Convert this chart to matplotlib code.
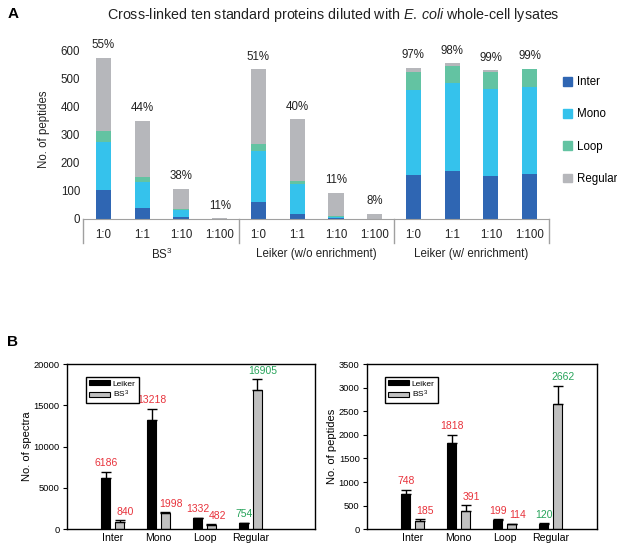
import numpy as np
import matplotlib.pyplot as plt
from matplotlib.patches import Patch
from matplotlib.transforms import blended_transform_factory

plt.rcParams['font.family'] = ['Liberation Sans', 'DejaVu Sans']
plt.rcParams['mathtext.fontset'] = 'custom'
plt.rcParams['mathtext.rm'] = 'Liberation Sans'
plt.rcParams['mathtext.it'] = 'Liberation Sans:italic'

# ---- panel A data (stacked segments, no. of peptides)
ratios = ["1:0", "1:1", "1:10", "1:100"] * 3
groups = ["BS$^3$", "Leiker (w/o enrichment)", "Leiker (w/ enrichment)"]
inter = [103, 40, 8, 0, 59, 18, 2, 0, 157, 171, 154, 161]
mono = [169, 90, 25, 0, 183, 106, 6, 0, 303, 312, 309, 310]
loop = [40, 20, 4, 0, 25, 12, 2, 0, 62, 60, 58, 61]
regular = [262, 200, 71, 3, 265, 218, 83, 18, 16, 11, 7, 3]
pct_labels = ["55%", "44%", "38%", "11%", "51%", "40%", "11%", "8%",
              "97%", "98%", "99%", "99%"]

# ---- panel B data
cats = ["Inter", "Mono", "Loop", "Regular"]
spec_leiker = [6186, 13218, 1332, 754]
spec_leiker_err = [780, 1370, 90, 60]
spec_bs3 = [840, 1998, 482, 16905]
spec_bs3_err = [285, 40, 110, 1250]
pep_leiker = [748, 1818, 199, 120]
pep_leiker_err = [85, 180, 10, 8]
pep_bs3 = [185, 391, 114, 2662]
pep_bs3_err = [27, 117, 8, 375]

c_inter = "#2f66b3"
c_mono = "#35c2ec"
c_loop = "#63c3a2"
c_reg = "#b6b7bb"
red = "#e8333c"
green = "#27a35a"

fig = plt.figure(figsize=(6.17, 5.45), dpi=100)

# ================= panel A
ax = fig.add_axes([0.1345, 0.5982, 0.7553, 0.3303])
x = np.arange(len(ratios))
w = 0.39
b = np.zeros(len(x))
for vals, col in [(inter, c_inter), (mono, c_mono), (loop, c_loop), (regular, c_reg)]:
    ax.bar(x, vals, w, bottom=b, color=col, linewidth=0)
    b = b + np.array(vals)
for xi, tot, lab in zip(x, b, pct_labels):
    ax.annotate(lab, (xi, tot), xytext=(0, 9), textcoords="offset points",
                ha="center", va="center", fontsize=8.3, color="#222222",
                annotation_clip=False)

ax.set_xlim(-0.53, 11.5)
ax.set_ylim(0, 640)
ax.set_yticks(range(0, 700, 100))
ax.set_xticks(x)
ax.set_xticklabels(ratios, fontsize=8.3, color="#222222")
ax.tick_params(axis="x", length=0, pad=7)
ax.tick_params(axis="y", length=0, pad=2, labelsize=8.3, labelcolor="#222222")
for s in ["top", "right", "left"]:
    ax.spines[s].set_visible(False)
ax.spines["bottom"].set_color("#a0a0a0")
ax.set_ylabel("No. of peptides", fontsize=8.3, color="#222222", labelpad=8)

tr = blended_transform_factory(ax.transData, ax.transAxes)
for sep in [-0.53, 3.5, 7.5, 11.5]:
    ax.plot([sep, sep], [0, -0.135], transform=tr, color="#a0a0a0",
            lw=1, clip_on=False)
for gi, g in enumerate(groups):
    ax.text(gi * 4 + 1.5, -0.195, g, transform=tr, ha="center", va="center",
            fontsize=8.3, color="#222222")

handles = [Patch(color=c_inter, label="Inter"), Patch(color=c_mono, label="Mono"),
           Patch(color=c_loop, label="Loop"), Patch(color=c_reg, label="Regular")]
fig.legend(handles=handles, loc="upper left", bbox_to_anchor=(0.913, 0.86),
           frameon=False, fontsize=8.3, handlelength=0.75, handleheight=0.75,
           handletextpad=0.4, labelspacing=1.75, borderaxespad=0, borderpad=0)

fig.text(0.54, 0.973, "Cross-linked ten standard proteins diluted with $\\it{E.\\,coli}$ whole-cell lysates",
         ha="center", va="center", fontsize=10.3, color="#222222")
fig.text(0.012, 0.975, "A", fontsize=11, fontweight="bold", va="center")
fig.text(0.012, 0.372, "B", fontsize=11, fontweight="bold", va="center")


# ================= panel B
def bar_panel(rect, lk, lk_err, bs, bs_err, ymax, step, ylabel, xmax):
    a = fig.add_axes(rect)
    xc = np.arange(len(cats))
    bw = 0.2
    a.bar(xc - 0.15, lk, bw, color="black", edgecolor="black", lw=0.8, label="Leiker")
    a.bar(xc + 0.15, bs, bw, color="#c0c0c0", edgecolor="black", lw=0.8, label="BS$^3$")
    a.errorbar(xc - 0.15, lk, yerr=[np.zeros(len(lk)), lk_err], fmt="none",
               ecolor="black", elinewidth=1, capsize=3.5, capthick=1)
    a.errorbar(xc + 0.15, bs, yerr=[np.zeros(len(bs)), bs_err], fmt="none",
               ecolor="black", elinewidth=1, capsize=3.5, capthick=1)
    for i in range(len(cats)):
        col = green if cats[i] == "Regular" else red
        # Leiker labels centred, BS3 labels nudged right as in the figure
        for xo, v, e, dx in [(-0.15, lk[i], lk_err[i], 0), (0.15, bs[i], bs_err[i], 4)]:
            a.annotate(str(v), (xc[i] + xo, v + e), xytext=(dx, 2.5),
                       textcoords="offset points", ha="center", va="bottom",
                       fontsize=7.5, color=col)
    a.set_xlim(-1.0, xmax)
    a.set_ylim(0, ymax)
    a.set_yticks(np.arange(0, ymax + 1, step))
    a.set_xticks(xc)
    a.set_xticklabels(cats, fontsize=7.6)
    a.tick_params(axis="x", length=0, pad=3)
    a.tick_params(axis="y", length=3, width=0.8, labelsize=6.7, pad=2)
    for s in a.spines.values():
        s.set_linewidth(1)
    a.set_ylabel(ylabel, fontsize=8, labelpad=1)
    a.legend(loc="upper left", bbox_to_anchor=(0.06, 0.945), fontsize=6,
             fancybox=False, edgecolor="black", framealpha=1,
             handlelength=2.6, handleheight=0.55, handletextpad=0.3,
             labelspacing=0.1, borderpad=0.35)
    return a


bar_panel([0.108, 0.0288, 0.4024, 0.3033], spec_leiker, spec_leiker_err,
          spec_bs3, spec_bs3_err, 20000, 5000, "No. of spectra", 4.4)
bar_panel([0.5943, 0.0288, 0.3728, 0.3033], pep_leiker, pep_leiker_err,
          pep_bs3, pep_bs3_err, 3500, 500, "No. of peptides", 4.0)

fig.savefig("out.png", dpi=100)
